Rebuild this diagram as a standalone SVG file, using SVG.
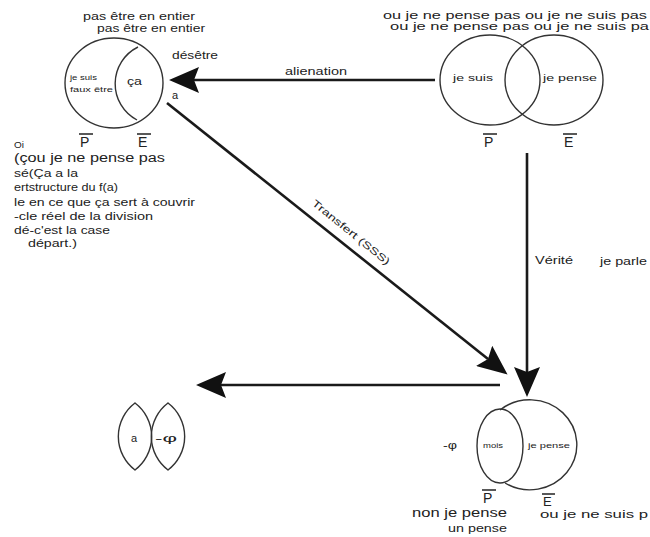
<svg xmlns="http://www.w3.org/2000/svg" width="650" height="537" viewBox="0 0 650 537">
<style>
text{font-family:"Liberation Sans",Arial,sans-serif;fill:#222}
.sh{fill:none;stroke:#333;stroke-width:1.4}
.bar{stroke:#222;stroke-width:1.5}
.ar{fill:none;stroke:#1a1a1a;stroke-width:2.6}
.pe{font-size:14px}
</style>
<defs>
<marker id="head" viewBox="0 0 30 26" refX="5" refY="13" markerWidth="30" markerHeight="26" markerUnits="userSpaceOnUse" orient="auto">
<path d="M0,0 L30,13 L0,26 L5,13 z" fill="#111"/>
</marker>
</defs>
<rect width="650" height="537" fill="#fff"/>

<g id="connectors">
<line class="ar" x1="435" y1="80" x2="194" y2="80" marker-end="url(#head)"/>
<line class="ar" x1="167" y1="103" x2="488" y2="359" marker-end="url(#head)"/>
<line class="ar" x1="527" y1="153" x2="527" y2="372" marker-end="url(#head)"/>
<line class="ar" x1="500" y1="385" x2="221" y2="385" marker-end="url(#head)"/>
<text x="285" y="75" font-size="10" textLength="62" lengthAdjust="spacingAndGlyphs">alienation</text>
<text transform="translate(349,235) rotate(39)" font-size="10" text-anchor="middle" textLength="97" lengthAdjust="spacingAndGlyphs">Transfert (SSS)</text>
<text x="535" y="264" font-size="10" textLength="38" lengthAdjust="spacingAndGlyphs">Vérité</text>
<text x="600" y="265" font-size="10" textLength="47" lengthAdjust="spacingAndGlyphs">je parle</text>
</g>

<g id="node-left">
<ellipse class="sh" cx="114" cy="83" rx="49" ry="45"/>
<path class="sh" d="M138,47 A41,41 0 0 0 137,120"/>
<text x="83" y="20" font-size="10" textLength="112" lengthAdjust="spacingAndGlyphs">pas être en entier</text>
<text x="97" y="32" font-size="10" textLength="108" lengthAdjust="spacingAndGlyphs">pas être en entier</text>
<text x="172" y="59" font-size="10" textLength="46" lengthAdjust="spacingAndGlyphs">désêtre</text>
<text x="70" y="80" font-size="8" textLength="27" lengthAdjust="spacingAndGlyphs">je suis</text>
<text x="70" y="92" font-size="8" textLength="43" lengthAdjust="spacingAndGlyphs">faux être</text>
<text x="127" y="85" font-size="10" textLength="15" lengthAdjust="spacingAndGlyphs">ça</text>
<text x="172" y="99" font-size="11">a</text>
<text class="pe" x="80" y="147">P</text>
<line class="bar" x1="79" y1="134" x2="93" y2="134"/>
<text class="pe" x="138" y="147">E</text>
<line class="bar" x1="137" y1="134" x2="151" y2="134"/>
</g>

<g id="note-left">
<text x="14" y="148" font-size="9" textLength="10" lengthAdjust="spacingAndGlyphs">Oi</text>
<text x="14" y="162" font-size="12" textLength="151" lengthAdjust="spacingAndGlyphs">(çou je ne pense pas</text>
<text x="14" y="177" font-size="10" textLength="64" lengthAdjust="spacingAndGlyphs">sé(Ça a la</text>
<text x="14" y="191" font-size="10" textLength="104" lengthAdjust="spacingAndGlyphs">ertstructure du f(a)</text>
<text x="14" y="206" font-size="10" textLength="181" lengthAdjust="spacingAndGlyphs">le en ce que ça sert à couvrir</text>
<text x="14" y="220" font-size="10" textLength="139" lengthAdjust="spacingAndGlyphs">-cle réel de la division</text>
<text x="14" y="234" font-size="10" textLength="96" lengthAdjust="spacingAndGlyphs">dé-c'est la case</text>
<text x="28" y="247" font-size="10" textLength="49" lengthAdjust="spacingAndGlyphs">départ.)</text>
</g>

<g id="node-top-right">
<ellipse class="sh" cx="490" cy="80" rx="50" ry="45"/>
<ellipse class="sh" cx="554" cy="80" rx="49" ry="45"/>
<text x="383" y="19" font-size="11" textLength="264" lengthAdjust="spacingAndGlyphs">ou je ne pense pas ou je ne suis pas</text>
<text x="390" y="30" font-size="11" textLength="259" lengthAdjust="spacingAndGlyphs">ou je ne pense pas ou je ne suis pa</text>
<text x="453" y="81" font-size="9" textLength="40" lengthAdjust="spacingAndGlyphs">je suis</text>
<text x="543" y="81" font-size="9" textLength="54" lengthAdjust="spacingAndGlyphs">je pense</text>
<text class="pe" x="484" y="147">P</text>
<line class="bar" x1="483" y1="134" x2="497" y2="134"/>
<text class="pe" x="564" y="147">E</text>
<line class="bar" x1="563" y1="134" x2="577" y2="134"/>
</g>

<g id="node-lenses">
<path class="sh" d="M135,403 A42,42 0 0 0 135,470 A42,42 0 0 0 135,403 z"/>
<path class="sh" d="M168,403 A42,42 0 0 0 168,470 A42,42 0 0 0 168,403 z"/>
<text x="131" y="442" font-size="11">a</text>
<text x="155" y="442" font-size="11" textLength="22" lengthAdjust="spacingAndGlyphs">-φ</text>
</g>

<g id="node-bottom">
<ellipse class="sh" cx="500" cy="446" rx="23" ry="37"/>
<path class="sh" d="M500,410 A47,45 0 1 1 505,483"/>
<text x="443" y="449" font-size="10" textLength="14" lengthAdjust="spacingAndGlyphs">-φ</text>
<text x="483" y="448" font-size="7" textLength="20" lengthAdjust="spacingAndGlyphs">mois</text>
<text x="528" y="448" font-size="7" textLength="42" lengthAdjust="spacingAndGlyphs">je pense</text>
<text class="pe" x="483" y="503">P</text>
<line class="bar" x1="482" y1="490" x2="496" y2="490"/>
<text x="543" y="506" font-size="13">E</text>
<line class="bar" x1="542" y1="494" x2="555" y2="494"/>
<text x="412" y="517" font-size="12" textLength="95" lengthAdjust="spacingAndGlyphs">non je pense</text>
<text x="448" y="532" font-size="10" textLength="59" lengthAdjust="spacingAndGlyphs">un pense</text>
<text x="540" y="518" font-size="11" textLength="108" lengthAdjust="spacingAndGlyphs">ou je ne suis p</text>
</g>
</svg>
